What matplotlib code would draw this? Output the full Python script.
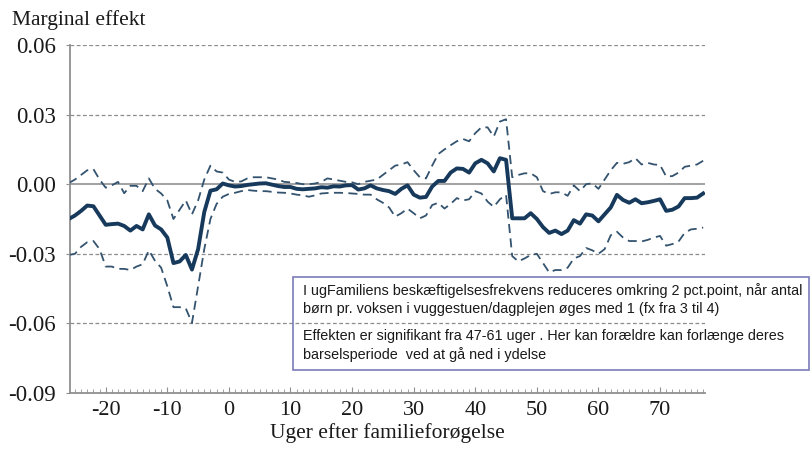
import matplotlib
matplotlib.use("Agg")
import matplotlib.pyplot as plt
from matplotlib.ticker import MultipleLocator, FixedLocator
import numpy as np

weeks = list(range(-26, 78))

effect = [-0.0150, -0.0135, -0.0115, -0.0092, -0.0095, -0.0135, -0.0175, -0.0172, -0.0170, -0.0180,
          -0.0200, -0.0180, -0.0195, -0.0130, -0.0178, -0.0195, -0.0230, -0.0340, -0.0333, -0.0305,
          -0.0368, -0.0280, -0.0120, -0.0028, -0.0022, 0.0003, -0.0005, -0.0010, -0.0008, -0.0003,
          0.0000, 0.0003, 0.0004, -0.0002, -0.0008, -0.0012, -0.0012, -0.0020, -0.0022, -0.0020,
          -0.0018, -0.0013, -0.0015, -0.0009, -0.0010, -0.0005, -0.0004, -0.0023, -0.0018, -0.0005,
          -0.0018, -0.0025, -0.0030, -0.0042, -0.0020, -0.0005, -0.0045, -0.0058, -0.0055, -0.0010,
          0.0014, 0.0014, 0.0050, 0.0068, 0.0066, 0.0050, 0.0090, 0.0105, 0.0090, 0.0055,
          0.0112, 0.0105, -0.0147, -0.0147, -0.0147, -0.0125, -0.0150, -0.0185, -0.0210, -0.0200,
          -0.0215, -0.0200, -0.0155, -0.0170, -0.0130, -0.0135, -0.0160, -0.0130, -0.0100, -0.0046,
          -0.0068, -0.0080, -0.0065, -0.0082, -0.0078, -0.0072, -0.0065, -0.0115, -0.0110, -0.0096,
          -0.0060, -0.0060, -0.0058, -0.0040]

upper = [0.0005, 0.0020, 0.0040, 0.0060, 0.0065, 0.0020, -0.0015, -0.0005, 0.0010, -0.0039,
         -0.0007, -0.0007, -0.0030, 0.0025, -0.0020, -0.0040, -0.0070, -0.0150, -0.0110, -0.0070,
         -0.0130, -0.0070, 0.0020, 0.0080, 0.0055, 0.0050, 0.0020, 0.0010, 0.0012, 0.0025,
         0.0030, 0.0030, 0.0030, 0.0025, 0.0020, 0.0010, 0.0008, 0.0005, 0.0000, 0.0000,
         0.0003, 0.0010, 0.0025, 0.0020, 0.0015, 0.0010, 0.0008, 0.0000, 0.0010, 0.0015,
         0.0020, 0.0040, 0.0060, 0.0080, 0.0085, 0.0095, 0.0060, 0.0030, 0.0025, 0.0080,
         0.0130, 0.0150, 0.0168, 0.0185, 0.0195, 0.0185, 0.0220, 0.0245, 0.0245, 0.0205,
         0.0270, 0.0280, 0.0030, 0.0040, 0.0047, 0.0047, 0.0030, -0.0030, -0.0042, -0.0035,
         -0.0035, -0.0050, -0.0005, -0.0030, 0.0000, 0.0004, -0.0020, 0.0020, 0.0060, 0.0092,
         0.0088, 0.0095, 0.0112, 0.0085, 0.0092, 0.0085, 0.0083, 0.0033, 0.0035, 0.0050,
         0.0075, 0.0080, 0.0085, 0.0101]

lower = [-0.0305, -0.0300, -0.0270, -0.0250, -0.0245, -0.0280, -0.0355, -0.0355, -0.0365, -0.0365,
         -0.0370, -0.0355, -0.0345, -0.0285, -0.0330, -0.0360, -0.0440, -0.0530, -0.0530, -0.0535,
         -0.0598, -0.0440, -0.0280, -0.0150, -0.0085, -0.0054, -0.0042, -0.0037, -0.0030, -0.0025,
         -0.0028, -0.0030, -0.0030, -0.0033, -0.0036, -0.0037, -0.0040, -0.0045, -0.0048, -0.0054,
         -0.0048, -0.0040, -0.0038, -0.0037, -0.0037, -0.0038, -0.0040, -0.0042, -0.0045, -0.0045,
         -0.0065, -0.0080, -0.0100, -0.0140, -0.0125, -0.0105, -0.0125, -0.0147, -0.0135, -0.0090,
         -0.0080, -0.0105, -0.0085, -0.0060, -0.0070, -0.0065, -0.0030, -0.0040, -0.0075, -0.0098,
         -0.0065, -0.0046, -0.0310, -0.0333, -0.0320, -0.0305, -0.0300, -0.0340, -0.0380, -0.0370,
         -0.0370, -0.0360, -0.0320, -0.0310, -0.0275, -0.0285, -0.0300, -0.0280, -0.0220, -0.0205,
         -0.0230, -0.0245, -0.0245, -0.0247, -0.0240, -0.0230, -0.0223, -0.0265, -0.0258, -0.0247,
         -0.0210, -0.0195, -0.0192, -0.0187]

yticks = [0.06, 0.03, 0.00, -0.03, -0.06, -0.09]
ytick_labels = ["0.06", "0.03", "0.00", "-0.03", "-0.06", "-0.09"]
xticks = [-20, -10, 0, 10, 20, 30, 40, 50, 60, 70]
xtick_labels = ["-20", "-10", "0", "10", "20", "30", "40", "50", "60", "70"]

title_text = "Marginal effekt"
xlabel_text = "Uger efter familieforøgelse"
note_lines_1 = ("I ugFamiliens beskæftigelsesfrekvens reduceres omkring 2 pct.point, når antal\n"
                "børn pr. voksen i vuggestuen/dagplejen øges med 1 (fx fra 3 til 4)")
note_lines_2 = ("Effekten er signifikant fra 47-61 uger . Her kan forældre kan forlænge deres\n"
                "barselsperiode  ved at gå ned i ydelse")

serif = ["Liberation Serif", "DejaVu Serif"]
sans = ["Liberation Sans", "DejaVu Sans"]

fig = plt.figure(figsize=(8.11, 4.5), dpi=100)
ax = fig.add_axes([70 / 811, 1 - 393 / 450, (705 - 70) / 811, (393 - 45) / 450])

grid_color = "#8c8c8c"
for y in [0.06, 0.03, -0.03, -0.06]:
    ax.axhline(y, color=grid_color, lw=0.9, ls=(0, (3, 2)), zorder=1)
ax.axhline(0.0, color="#9a9a9a", lw=1.3, zorder=1)

line_col = "#173a5c"
dash_col = "#34536f"
ax.plot(weeks, upper, color=dash_col, lw=1.3, ls=(0, (5, 3)), zorder=3)
ax.plot(weeks, lower, color=dash_col, lw=1.3, ls=(0, (5, 3)), zorder=3)
ax.plot(weeks, effect, color=line_col, lw=2.8, zorder=4, solid_joinstyle="round")

ax.set_xlim(-25.8, 77.3)
ax.set_ylim(-0.09, 0.06)

for s in ["top", "right"]:
    ax.spines[s].set_visible(False)
for s in ["left", "bottom"]:
    ax.spines[s].set_color("#909090")
    ax.spines[s].set_linewidth(1.3)

ax.yaxis.set_major_locator(FixedLocator(yticks))
ax.set_yticklabels(ytick_labels, fontfamily=serif, fontsize=16.5, color="#1a1a1a")
ax.tick_params(axis="y", length=3, color="#909090", pad=7)

ax.xaxis.set_major_locator(FixedLocator(xticks))
ax.set_xticklabels(xtick_labels, fontfamily=serif, fontsize=16, color="#1a1a1a")
ax.xaxis.set_minor_locator(MultipleLocator(1))
ax.tick_params(axis="x", which="major", direction="in", length=4, color="#909090", pad=6)
ax.tick_params(axis="x", which="minor", direction="in", length=3, color="#909090")

ax.set_xlabel(xlabel_text, fontfamily=serif, fontsize=15.5, color="#1a1a1a", labelpad=2)

fig.text(12 / 811, 1 - 20 / 450, title_text, fontfamily=serif, fontsize=15.5,
         color="#1a1a1a", va="center", ha="left")

# annotation box
box_l, box_t, box_r, box_b = 293, 277, 809, 370
rect = plt.Rectangle((box_l / 811, 1 - box_b / 450), (box_r - box_l) / 811, (box_b - box_t) / 450,
                     transform=fig.transFigure, fill=False, edgecolor="#7b7bb8", lw=1.2, zorder=5)
fig.add_artist(rect)
fig.text(303 / 811, 1 - 283 / 450, note_lines_1, fontfamily=sans, fontsize=10.4,
         color="#1a1a1a", va="top", ha="left", linespacing=1.33)
fig.text(303 / 811, 1 - 329 / 450, note_lines_2, fontfamily=sans, fontsize=10.4,
         color="#1a1a1a", va="top", ha="left", linespacing=1.33)

fig.savefig("out.png", dpi=100)
